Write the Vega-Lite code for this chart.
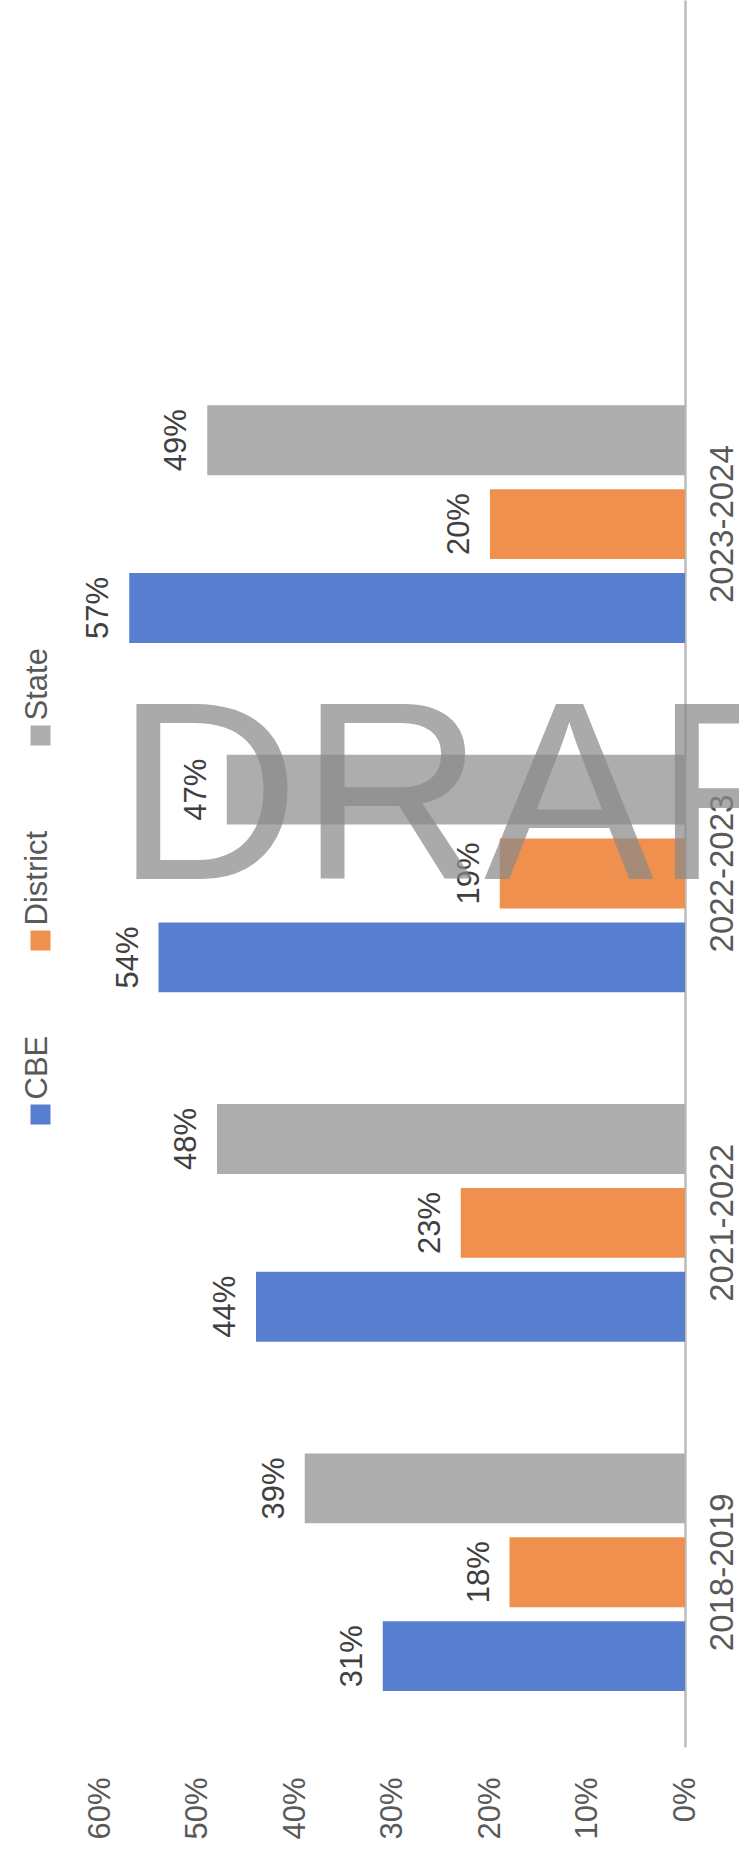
{
  "$schema": "https://vega.github.io/schema/vega-lite/v6.json",
  "width": 585,
  "height": 1747,
  "autosize": {"type": "none"},
  "padding": {"left": 100, "top": 0, "right": 54, "bottom": 102},
  "background": "white",
  "config": {"view": {"stroke": null}, "font": "Liberation Sans"},
  "data": {"values": [
    {"year": "2018-2019", "series": "CBE", "value": 0.31},
    {"year": "2018-2019", "series": "District", "value": 0.18},
    {"year": "2018-2019", "series": "State", "value": 0.39},
    {"year": "2021-2022", "series": "CBE", "value": 0.44},
    {"year": "2021-2022", "series": "District", "value": 0.23},
    {"year": "2021-2022", "series": "State", "value": 0.48},
    {"year": "2022-2023", "series": "CBE", "value": 0.54},
    {"year": "2022-2023", "series": "District", "value": 0.19},
    {"year": "2022-2023", "series": "State", "value": 0.47},
    {"year": "2023-2024", "series": "CBE", "value": 0.57},
    {"year": "2023-2024", "series": "District", "value": 0.20},
    {"year": "2023-2024", "series": "State", "value": 0.49}
  ]},
  "layer": [
    {
      "mark": {"type": "bar"},
      "encoding": {
        "y": {"field": "year", "type": "nominal",
          "scale": {"domain": ["blank", "2023-2024", "2022-2023", "2021-2022", "2018-2019"], "paddingInner": 0.32, "paddingOuter": 0.16},
          "axis": {"orient": "right", "title": null, "domainColor": "#bcbcbc", "domainWidth": 2.5, "ticks": false, "tickSize": 0, "grid": false,
            "labelExpr": "datum.value == 'blank' ? '' : datum.value",
            "labelAngle": 270, "labelAlign": "center", "labelBaseline": "top", "labelPadding": 21, "labelFontSize": 33, "labelColor": "#595959"}},
        "yOffset": {"field": "series", "type": "nominal", "sort": ["State", "District", "CBE"], "scale": {"paddingInner": 0.167, "paddingOuter": 0}},
        "x": {"field": "value", "type": "quantitative",
          "scale": {"domain": [0, 0.6], "reverse": true, "nice": false},
          "axis": {"orient": "bottom", "title": null, "domain": false, "ticks": false, "tickSize": 0, "grid": false, "format": ".0%",
            "values": [0, 0.1, 0.2, 0.3, 0.4, 0.5, 0.6], "labelFlush": false, "labelOverlap": false,
            "labelAngle": 270, "labelAlign": "right", "labelBaseline": "middle", "labelPadding": 30, "labelFontSize": 31, "labelColor": "#595959"}},
        "color": {"field": "series", "type": "nominal",
          "scale": {"domain": ["State", "District", "CBE"], "range": ["#ADADAD", "#F0904F", "#587ED0"]},
          "legend": {"orient": "none", "legendX": -75, "legendY": 720, "direction": "vertical", "title": null,
            "symbolType": "square", "symbolSize": 400, "symbolStrokeWidth": 0, "labelFontSize": 31, "labelColor": "#595959",
            "rowPadding": 84, "padding": 0, "labelOffset": 4,
            "encode": {"labels": {"update": {"angle": {"value": 270}, "align": {"value": "left"}, "baseline": {"value": "middle"}, "dx": {"value": 15}, "dy": {"value": -22}}}}}}
      }
    },
    {
      "mark": {"type": "text", "angle": 270, "align": "center", "baseline": "bottom", "dy": -14, "fontSize": 31, "color": "#404040"},
      "encoding": {
        "y": {"field": "year", "type": "nominal"},
        "yOffset": {"field": "series", "type": "nominal", "sort": ["State", "District", "CBE"]},
        "x": {"field": "value", "type": "quantitative"},
        "text": {"field": "value", "type": "quantitative", "format": ".0%"}
      }
    },
    {
      "data": {"values": [{"mark": "DRAFT"}]},
      "mark": {"type": "text", "align": "left", "baseline": "alphabetic", "dy": 5, "fontSize": 255, "color": "#8a8a8a", "opacity": 0.72},
      "encoding": {
        "x": {"datum": 0.584, "type": "quantitative"},
        "y": {"datum": "2022-2023", "type": "nominal"},
        "text": {"field": "mark", "type": "nominal"}
      }
    }
  ]
}
